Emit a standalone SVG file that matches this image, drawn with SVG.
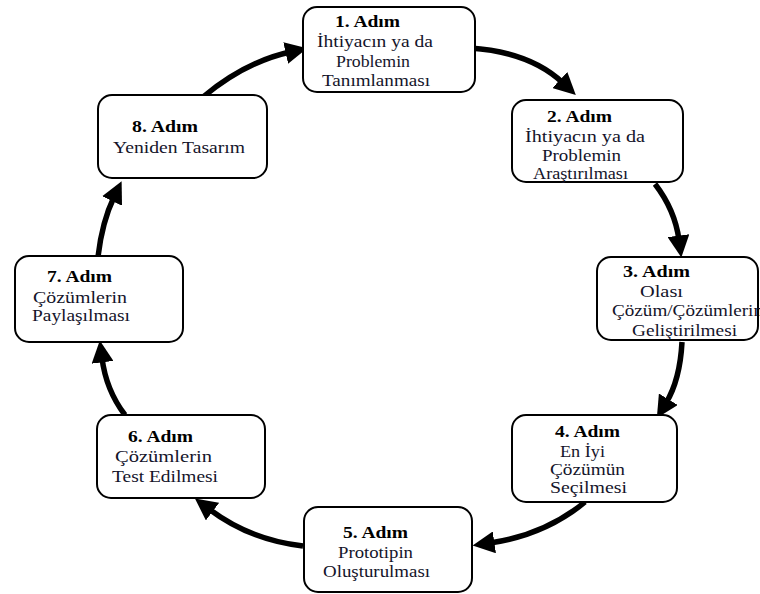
<svg xmlns="http://www.w3.org/2000/svg" width="760" height="594" viewBox="0 0 760 594">
<style>
.box{fill:#fff;stroke:#000;stroke-width:2}
.t text{font-size:16px;fill:#14142a}
.t .b{font-weight:bold;fill:#000}
.arc{fill:none;stroke:#000;stroke-width:5.5;marker-end:url(#ah)}
</style>
<defs>
<marker id="ah" markerUnits="userSpaceOnUse" markerWidth="22" markerHeight="22" refX="4" refY="10" orient="auto" viewBox="0 0 20 20">
<path d="M0,0 L20,10 L0,20 z" fill="#000"/>
</marker>
</defs>
<rect width="760" height="594" fill="#fff"/>
<g id="connectors">
<path class="arc" d="M203,97 Q245,62 290,52"/>
<path class="arc" d="M470,48 Q530,52 563,83"/>
<path class="arc" d="M655,184 Q675,210 679,240"/>
<path class="arc" d="M682,342 Q680,380 666,403"/>
<path class="arc" d="M585,502 Q545,535 490,543"/>
<path class="arc" d="M303,546 Q250,540 209,509"/>
<path class="arc" d="M125,415 Q106,390 102,358"/>
<path class="arc" d="M98,257 Q102,222 114,197"/>
</g>
<g class="t" font-family="'Liberation Serif', 'DejaVu Serif', serif">
<g id="n1">
<rect class="box" x="303" y="7" width="172" height="85" rx="14"/>
<text class="b" x="335" y="27" textLength="65" lengthAdjust="spacingAndGlyphs">1. Adım</text>
<text x="317" y="47" textLength="116" lengthAdjust="spacingAndGlyphs">İhtiyacın ya da</text>
<text x="336" y="67" textLength="74" lengthAdjust="spacingAndGlyphs">Problemin</text>
<text x="322" y="86" textLength="108" lengthAdjust="spacingAndGlyphs">Tanımlanması</text>
</g>
<g id="n2">
<rect class="box" x="512" y="100" width="171" height="82" rx="14"/>
<text class="b" x="547" y="122" textLength="65" lengthAdjust="spacingAndGlyphs">2. Adım</text>
<text x="525" y="142" textLength="120" lengthAdjust="spacingAndGlyphs">İhtiyacın ya da</text>
<text x="542" y="161" textLength="79" lengthAdjust="spacingAndGlyphs">Problemin</text>
<text x="533" y="179" textLength="95" lengthAdjust="spacingAndGlyphs">Araştırılması</text>
</g>
<g id="n3">
<rect class="box" x="597" y="257" width="161" height="83" rx="14"/>
<text class="b" x="623" y="277" textLength="67" lengthAdjust="spacingAndGlyphs">3. Adım</text>
<text x="640" y="297" textLength="43" lengthAdjust="spacingAndGlyphs">Olası</text>
<text x="612" y="316" textLength="151" lengthAdjust="spacingAndGlyphs">Çözüm/Çözümlerin</text>
<text x="632" y="336" textLength="105" lengthAdjust="spacingAndGlyphs">Geliştirilmesi</text>
</g>
<g id="n4">
<rect class="box" x="512" y="415" width="165" height="87" rx="14"/>
<text class="b" x="555" y="437" textLength="65" lengthAdjust="spacingAndGlyphs">4. Adım</text>
<text x="560" y="457" textLength="45" lengthAdjust="spacingAndGlyphs">En İyi</text>
<text x="550" y="475" textLength="75" lengthAdjust="spacingAndGlyphs">Çözümün</text>
<text x="550" y="493" textLength="77" lengthAdjust="spacingAndGlyphs">Seçilmesi</text>
</g>
<g id="n5">
<rect class="box" x="304" y="507" width="168" height="85" rx="14"/>
<text class="b" x="343" y="538" textLength="65" lengthAdjust="spacingAndGlyphs">5. Adım</text>
<text x="338" y="558" textLength="75" lengthAdjust="spacingAndGlyphs">Prototipin</text>
<text x="323" y="577" textLength="107" lengthAdjust="spacingAndGlyphs">Oluşturulması</text>
</g>
<g id="n6">
<rect class="box" x="97" y="415" width="168" height="83" rx="14"/>
<text class="b" x="128" y="442" textLength="65" lengthAdjust="spacingAndGlyphs">6. Adım</text>
<text x="115" y="462" textLength="97" lengthAdjust="spacingAndGlyphs">Çözümlerin</text>
<text x="112" y="482" textLength="106" lengthAdjust="spacingAndGlyphs">Test Edilmesi</text>
</g>
<g id="n7">
<rect class="box" x="15" y="256" width="168" height="86" rx="14"/>
<text class="b" x="47" y="282" textLength="65" lengthAdjust="spacingAndGlyphs">7. Adım</text>
<text x="33" y="303" textLength="94" lengthAdjust="spacingAndGlyphs">Çözümlerin</text>
<text x="32" y="321" textLength="98" lengthAdjust="spacingAndGlyphs">Paylaşılması</text>
</g>
<g id="n8">
<rect class="box" x="98" y="95" width="169" height="83" rx="14"/>
<text class="b" x="132" y="132" textLength="66" lengthAdjust="spacingAndGlyphs">8. Adım</text>
<text x="113" y="153" textLength="132" lengthAdjust="spacingAndGlyphs">Yeniden Tasarım</text>
</g>
</g>
</svg>
